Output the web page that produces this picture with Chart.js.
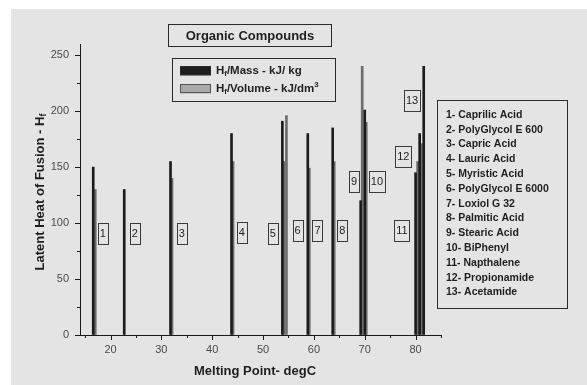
<!DOCTYPE html>
<html>
<head>
<meta charset="utf-8">
<script src="https://cdn.jsdelivr.net/npm/chart.js@4/dist/chart.umd.min.js"></script>
<style>
  html, body { margin: 0; padding: 0; background: #ffffff; }
  canvas { display: block; }
</style>
</head>
<body>
<canvas id="chart" width="587" height="385"></canvas>
<script>
// Latent heat of fusion of organic PCM compounds vs. melting point
const compoundNames = [
  'Caprilic Acid', 'PolyGlycol E 600', 'Capric Acid', 'Lauric Acid',
  'Myristic Acid', 'PolyGlycol E 6000', 'Loxiol G 32', 'Palmitic Acid',
  'Stearic Acid', 'BiPhenyl', 'Napthalene', 'Propionamide', 'Acetamide'
];

// H_f per mass (kJ/kg) at the melting point (degC)
const massMeltingPoints = [16.6, 22.7, 31.8, 43.8, 53.8, 58.8, 63.7, 69.2, 70.0, 80.0, 80.8, 81.6];
const massValues        = [150,  130,  155,  180,  191,  180,  185,  120,  201,  145,  180,  240];

// H_f per volume (kJ/dm3) at the melting point (degC)
const volumeMeltingPoints = [17.0, 32.1, 44.1, 54.1, 54.6, 59.1, 64.0, 69.5, 70.3, 80.4, 81.2];
const volumeValues        = [130,  140,  155,  155,  196,  149,  155,  240,  190,  155,  171];

// numbered tags placed next to the bars (x in degC, y in kJ)
const tagTexts = ['1','2','3','4','5','6','7','8','9','10','11','12','13'];
const tagX = [18.5, 24.8, 34.0, 45.8, 51.9, 56.8, 60.7, 65.6, 67.9, 72.4, 77.3, 77.6, 79.3];
const tagY = [91, 91, 91, 92, 91, 93.5, 93, 93, 137.5, 137.5, 93.3, 159.8, 209.8];

// axis ticks
const xTickValues = [15, 20, 25, 30, 35, 40, 45, 50, 55, 60, 65, 70, 75, 80, 85];
const yTickValues = [0, 25, 50, 75, 100, 125, 150, 175, 200, 225, 250];

const TEXT = '#1e1e1e';
const SANS = '"Liberation Sans", Arial, sans-serif';
const MASS_COLOR = '#1c1c1c';
const VOLUME_COLOR = '#6c6c6c';

function drawRich(ctx, parts, x, y, size, align) {
  // draws text made of normal and subscript / superscript pieces
  const pieces = parts.map(p => {
    const s = p.sub || p.sup ? size * 0.68 : size;
    ctx.font = 'bold ' + s + 'px ' + SANS;
    return { t: p.t, s, w: ctx.measureText(p.t).width, dy: p.sub ? size * 0.28 : (p.sup ? -size * 0.38 : 0) };
  });
  const total = pieces.reduce((a, p) => a + p.w, 0);
  let cx = align === 'center' ? x - total / 2 : x;
  ctx.textAlign = 'left';
  ctx.textBaseline = 'middle';
  pieces.forEach(p => {
    ctx.font = 'bold ' + p.s + 'px ' + SANS;
    ctx.fillText(p.t, cx, y + p.dy);
    cx += p.w;
  });
}

const decorations = {
  id: 'decorations',
  beforeDraw(chart) {
    const ctx = chart.ctx;
    ctx.save();
    ctx.fillStyle = '#e4e4e4';
    ctx.fillRect(11, 9, 576, 376);
    ctx.restore();
  },
  afterDraw(chart) {
    const ctx = chart.ctx;
    const xs = chart.scales.x, ys = chart.scales.y;
    const area = chart.chartArea;
    ctx.save();
    ctx.strokeStyle = '#1a1a1a';
    ctx.lineWidth = 1;

    // tick marks, pointing outwards
    yTickValues.forEach(v => {
      const py = Math.round(ys.getPixelForValue(v)) + 0.5;
      const len = v % 50 === 0 ? 5 : 3;
      ctx.beginPath();
      ctx.moveTo(area.left, py);
      ctx.lineTo(area.left - len, py);
      ctx.stroke();
    });
    xTickValues.forEach(v => {
      const px = Math.round(xs.getPixelForValue(v)) + 0.5;
      const len = v % 10 === 0 ? 5 : 3;
      ctx.beginPath();
      ctx.moveTo(px, area.bottom);
      ctx.lineTo(px, area.bottom + len);
      ctx.stroke();
    });

    // numbered tags
    ctx.font = '11px ' + SANS;
    ctx.textAlign = 'center';
    ctx.textBaseline = 'middle';
    tagTexts.forEach((t, i) => {
      const cx = xs.getPixelForValue(tagX[i]);
      const cy = ys.getPixelForValue(tagY[i]);
      const w = ctx.measureText(t).width + 4;
      const h = 21;
      ctx.strokeStyle = '#3a3a3a';
      ctx.strokeRect(Math.round(cx - w / 2) + 0.5, Math.round(cy - h / 2) + 0.5, Math.round(w), h);
      ctx.fillStyle = TEXT;
      ctx.fillText(t, cx, cy + 0.5);
    });

    // chart title box
    ctx.strokeStyle = '#2a2a2a';
    ctx.strokeRect(168.5, 24.5, 163, 22);
    ctx.fillStyle = TEXT;
    ctx.font = 'bold 13px ' + SANS;
    ctx.textAlign = 'center';
    ctx.textBaseline = 'middle';
    ctx.fillText('Organic Compounds', 250, 36);

    // series legend
    ctx.strokeRect(172.5, 58.5, 163, 43);
    const ds = chart.data.datasets;
    ctx.fillStyle = ds[0].backgroundColor;
    ctx.fillRect(180, 66.5, 31, 9);
    ctx.strokeRect(180.5, 66.5, 30, 8);
    ctx.fillStyle = '#a9a9a9';
    ctx.fillRect(180, 84.5, 31, 9);
    ctx.strokeStyle = '#555555';
    ctx.strokeRect(180.5, 84.5, 30, 8);
    ctx.fillStyle = TEXT;
    drawRich(ctx, [{ t: 'H' }, { t: 'f', sub: true }, { t: '/Mass - kJ/ kg' }], 216, 71, 11.5, 'left');
    drawRich(ctx, [{ t: 'H' }, { t: 'f', sub: true }, { t: '/Volume - kJ/dm' }, { t: '3', sup: true }], 216, 89, 11.5, 'left');

    // compound list
    ctx.strokeStyle = '#2a2a2a';
    ctx.strokeRect(437.5, 100.5, 130, 208);
    ctx.fillStyle = TEXT;
    ctx.font = 'bold 10.5px ' + SANS;
    ctx.textAlign = 'left';
    ctx.textBaseline = 'middle';
    compoundNames.forEach((name, i) => {
      ctx.fillText((i + 1) + '- ' + name, 446, 115 + i * 14.8);
    });

    // axis titles
    ctx.fillStyle = TEXT;
    drawRich(ctx, [{ t: 'Melting Point- degC' }], 255, 371, 13, 'center');
    ctx.translate(40, 192);
    ctx.rotate(-Math.PI / 2);
    drawRich(ctx, [{ t: 'Latent Heat of Fusion - H' }, { t: 'f', sub: true }], 0, 0, 13, 'center');
    ctx.restore();
  }
};

new Chart(document.getElementById('chart'), {
  type: 'bar',
  data: {
    datasets: [
      {
        label: 'Hf/Mass - kJ/ kg',
        data: massMeltingPoints.map((x, i) => ({ x, y: massValues[i] })),
        backgroundColor: MASS_COLOR,
        barThickness: 2,
        grouped: false,
        order: 1
      },
      {
        label: 'Hf/Volume - kJ/dm3',
        data: volumeMeltingPoints.map((x, i) => ({ x, y: volumeValues[i] })),
        backgroundColor: VOLUME_COLOR,
        barThickness: 2,
        grouped: false,
        order: 2
      }
    ]
  },
  options: {
    responsive: false,
    animation: false,
    events: [],
    layout: { padding: { left: 11, top: 44, right: 146, bottom: 0 } },
    plugins: { legend: { display: false }, title: { display: false }, tooltip: { enabled: false } },
    scales: {
      x: {
        type: 'linear',
        min: 14,
        max: 85,
        offset: false,
        afterFit(s) { s.height = 50; },
        afterBuildTicks(s) { s.ticks = xTickValues.map(v => ({ value: v })); },
        ticks: {
          autoSkip: false,
          maxRotation: 0,
          padding: 8,
          color: '#4a4a4a',
          font: { family: SANS, size: 11 },
          callback: v => (v % 10 === 0 && v <= 80 ? String(v) : '')
        },
        grid: { display: true, drawOnChartArea: false, drawTicks: false, offset: false },
        border: { display: true, color: '#1a1a1a', width: 1 }
      },
      y: {
        min: 0,
        max: 260,
        afterFit(s) { s.width = 69; },
        afterBuildTicks(s) { s.ticks = yTickValues.map(v => ({ value: v })); },
        ticks: {
          autoSkip: false,
          padding: 11,
          color: '#4a4a4a',
          font: { family: SANS, size: 11 },
          callback: v => (v % 50 === 0 ? String(v) : '')
        },
        grid: { display: true, drawOnChartArea: false, drawTicks: false },
        border: { display: true, color: '#1a1a1a', width: 1 }
      }
    }
  },
  plugins: [decorations]
});
</script>
</body>
</html>
